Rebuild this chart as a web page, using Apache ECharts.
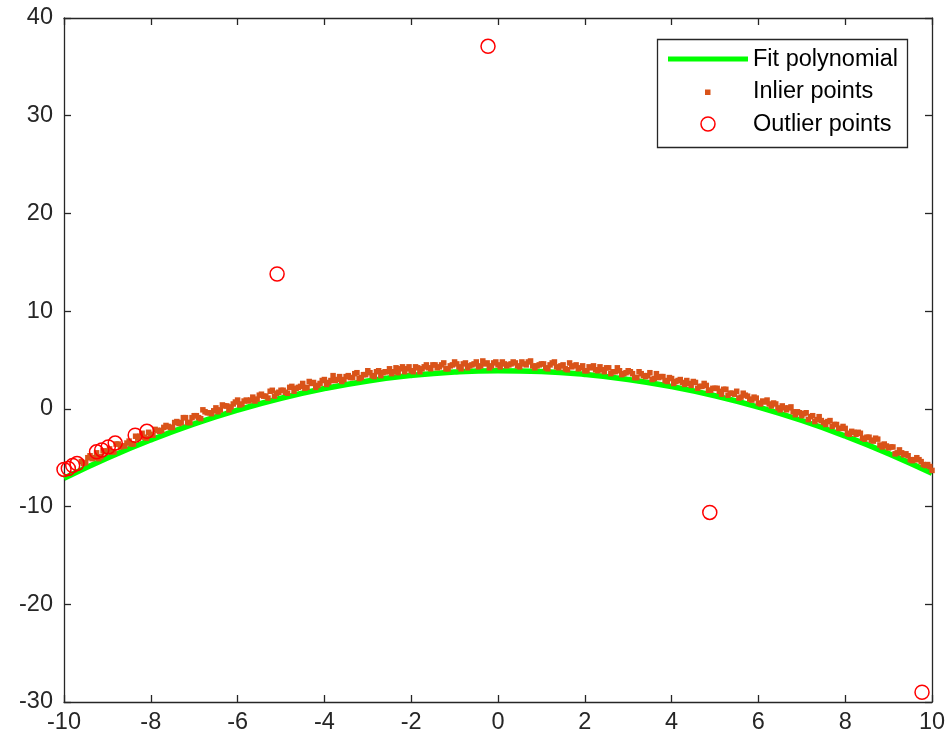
<!DOCTYPE html>
<html>
<head>
<meta charset="utf-8">
<script src="https://cdn.jsdelivr.net/npm/echarts@6/dist/echarts.min.js"></script>
<style>
html,body{margin:0;padding:0;background:#fff;}
#chart{width:950px;height:746px;}
</style>
</head>
<body>
<div id="chart"></div>
<script>
// Fit polynomial read at integer x
var fitX = [-10,-9,-8,-7,-6,-5,-4,-3,-2,-1,0,1,2,3,4,5,6,7,8,9,10];
var fitY = [-7.1,-5.03,-3.18,-1.54,-0.12,1.09,2.08,2.86,3.42,3.77,3.9,3.82,3.52,3.01,2.28,1.34,0.18,-1.19,-2.78,-4.58,-6.6];

// Inlier points (first pass)
var inlierX = [-9.6,-9.5,-9.4,-9.3,-9.2,-9.1,-9.0,-8.9,-8.8,-8.7,-8.6,-8.5,-8.4,-8.3,-8.2,-8.1,-8.0,-7.9,-7.8,-7.7,
-7.6,-7.5,-7.4,-7.3,-7.2,-7.1,-7.0,-6.9,-6.8,-6.7,-6.6,-6.5,-6.4,-6.3,-6.2,-6.1,-6.0,-5.9,-5.8,-5.7,
-5.6,-5.5,-5.4,-5.3,-5.2,-5.1,-5.0,-4.9,-4.8,-4.7,-4.6,-4.5,-4.4,-4.3,-4.2,-4.1,-4.0,-3.9,-3.8,-3.7,
-3.6,-3.5,-3.4,-3.3,-3.2,-3.1,-3.0,-2.9,-2.8,-2.7,-2.6,-2.5,-2.4,-2.3,-2.2,-2.1,-2.0,-1.9,-1.8,-1.7,
-1.6,-1.5,-1.4,-1.3,-1.2,-1.1,-1.0,-0.9,-0.8,-0.7,-0.6,-0.5,-0.4,-0.3,-0.2,-0.1,0.0,0.1,0.2,0.3,
0.4,0.5,0.6,0.7,0.8,0.9,1.0,1.1,1.2,1.3,1.4,1.5,1.6,1.7,1.8,1.9,2.0,2.1,2.2,2.3,
2.4,2.5,2.6,2.7,2.8,2.9,3.0,3.1,3.2,3.3,3.4,3.5,3.6,3.7,3.8,3.9,4.0,4.1,4.2,4.3,
4.4,4.5,4.6,4.7,4.8,4.9,5.0,5.1,5.2,5.3,5.4,5.5,5.6,5.7,5.8,5.9,6.0,6.1,6.2,6.3,
6.4,6.5,6.6,6.7,6.8,6.9,7.0,7.1,7.2,7.3,7.4,7.5,7.6,7.7,7.8,7.9,8.0,8.1,8.2,8.3,
8.4,8.5,8.6,8.7,8.8,8.9,9.0,9.1,9.2,9.3,9.4,9.5,9.6,9.7,9.8,9.9,10.0];
var inlierY = [-5.4,-5.5,-4.8,-5.0,-5.1,-4.3,-4.3,-4.4,-3.6,-3.9,-3.8,-3.3,-3.6,-3.0,-2.5,-3.0,-2.6,-2.1,-2.3,-1.9,
-1.8,-1.9,-1.3,-1.4,-0.9,-1.4,-0.7,-0.9,-0.1,-0.4,-0.5,0.1,-0.1,0.3,-0.1,0.5,0.9,0.5,0.9,0.9,
0.8,1.4,1.3,1.1,1.9,1.6,1.9,1.7,2.2,1.8,2.2,2.6,2.2,2.6,2.2,2.6,3.0,2.7,3.4,3.0,
2.8,3.3,3.2,3.6,3.1,3.5,3.9,3.4,3.8,3.4,3.8,4.1,3.8,3.7,4.3,4.1,3.9,4.3,3.8,4.3,
4.2,4.5,4.2,4.5,4.1,4.4,4.8,4.3,4.6,4.2,4.5,4.8,4.4,4.6,4.2,4.7,4.5,4.8,4.4,4.6,
4.7,4.3,4.6,4.8,4.4,4.4,4.6,4.2,4.5,4.8,4.2,4.5,4.0,4.3,4.5,4.2,3.9,4.3,4.4,3.9,
4.0,4.2,3.6,3.8,3.9,3.6,3.9,3.6,3.2,3.6,3.3,3.7,3.1,3.2,3.3,2.8,3.1,2.8,3.0,2.5,
2.6,2.8,2.1,2.3,2.4,1.9,2.1,1.8,2.0,1.4,1.6,1.8,1.2,1.4,1.0,1.2,0.6,0.8,0.9,0.3,
0.5,-0.1,0.1,0.1,-0.3,-0.3,-0.7,-0.4,-0.8,-1.3,-0.8,-1.4,-1.3,-1.8,-1.6,-2.0,-2.0,-2.6,-2.4,-2.4,
-3.0,-2.9,-3.2,-3.0,-3.7,-3.6,-4.0,-3.9,-4.5,-4.5,-4.6,-5.2,-5.2,-5.2,-5.7,-5.7,-6.3];

// Inlier points (in-between positions)
var inlierX2 = [-9.55,-9.45,-9.35,-9.25,-9.15,-9.05,-8.95,-8.85,-8.75,-8.65,-8.55,-8.45,-8.35,-8.25,-8.15,-8.05,-7.95,-7.85,-7.75,-7.65,
-7.55,-7.45,-7.35,-7.25,-7.15,-7.05,-6.95,-6.85,-6.75,-6.65,-6.55,-6.45,-6.35,-6.25,-6.15,-6.05,-5.95,-5.85,-5.75,-5.65,
-5.55,-5.45,-5.35,-5.25,-5.15,-5.05,-4.95,-4.85,-4.75,-4.65,-4.55,-4.45,-4.35,-4.25,-4.15,-4.05,-3.95,-3.85,-3.75,-3.65,
-3.55,-3.45,-3.35,-3.25,-3.15,-3.05,-2.95,-2.85,-2.75,-2.65,-2.55,-2.45,-2.35,-2.25,-2.15,-2.05,-1.95,-1.85,-1.75,-1.65,
-1.55,-1.45,-1.35,-1.25,-1.15,-1.05,-0.95,-0.85,-0.75,-0.65,-0.55,-0.45,-0.35,-0.25,-0.15,-0.05,0.05,0.15,0.25,0.35,
0.45,0.55,0.65,0.75,0.85,0.95,1.05,1.15,1.25,1.35,1.45,1.55,1.65,1.75,1.85,1.95,2.05,2.15,2.25,2.35,
2.45,2.55,2.65,2.75,2.85,2.95,3.05,3.15,3.25,3.35,3.45,3.55,3.65,3.75,3.85,3.95,4.05,4.15,4.25,4.35,
4.45,4.55,4.65,4.75,4.85,4.95,5.05,5.15,5.25,5.35,5.45,5.55,5.65,5.75,5.85,5.95,6.05,6.15,6.25,6.35,
6.45,6.55,6.65,6.75,6.85,6.95,7.05,7.15,7.25,7.35,7.45,7.55,7.65,7.75,7.85,7.95,8.05,8.15,8.25,8.35,
8.45,8.55,8.65,8.75,8.85,8.95,9.05,9.15,9.25,9.35,9.45,9.55,9.65,9.75,9.85,9.95];
var inlierY2 = [-5.6,-5.0,-5.1,-4.5,-4.9,-4.4,-4.1,-4.4,-3.6,-3.8,-3.5,-3.6,-2.8,-2.8,-2.9,-2.4,-2.7,-2.2,-2.2,-1.7,
-1.9,-1.4,-1.5,-0.9,-1.4,-0.9,-0.7,-1.0,-0.3,-0.4,-0.2,-0.3,0.4,0.3,0.2,0.7,0.4,0.8,0.8,1.2,
1.0,1.5,1.3,1.8,1.3,1.7,1.9,1.6,2.3,2.1,2.3,2.1,2.8,2.7,2.4,2.9,2.5,2.9,2.9,3.3,
3.0,3.4,3.2,3.7,3.2,3.5,3.7,3.3,3.9,3.7,3.8,3.6,4.2,4.1,3.8,4.3,3.8,4.2,4.1,4.5,
4.1,4.5,4.3,4.7,4.1,4.5,4.6,4.1,4.7,4.4,4.6,4.3,4.9,4.7,4.4,4.8,4.3,4.6,4.5,4.8,
4.4,4.8,4.5,4.9,4.2,4.5,4.6,4.1,4.7,4.3,4.4,4.1,4.7,4.4,4.1,4.4,3.9,4.2,4.0,4.3,
3.8,4.2,3.8,4.2,3.5,3.7,3.8,3.2,3.8,3.4,3.4,3.0,3.6,3.3,2.9,3.2,2.6,2.9,2.7,2.9,
2.4,2.7,2.3,2.6,1.9,2.1,2.1,1.5,2.0,1.6,1.5,1.1,1.6,1.3,0.9,1.1,0.5,0.7,0.5,0.6,
0.1,0.3,-0.1,0.2,-0.6,-0.4,-0.5,-1.1,-0.7,-1.1,-1.2,-1.6,-1.2,-1.6,-2.0,-1.8,-2.5,-2.3,-2.6,-2.5,
-3.1,-2.9,-3.3,-3.1,-3.9,-3.8,-3.9,-4.6,-4.2,-4.7,-4.8,-5.3,-5.0,-5.4,-5.8,-5.9];

// Outlier points
var outlierX = [-10.0,-9.9,-9.8,-9.7,-9.25,-9.13,-8.98,-8.82,-8.36,-8.09,-5.09,-0.23,4.88,9.77];
var outlierY = [-6.2,-6.1,-5.8,-5.6,-4.4,-4.2,-3.9,-3.5,-2.7,-2.3,13.8,37.1,-10.6,-29.0];

var xTicks = {min:-10, max:10, interval:2};
var yTicks = {min:-30, max:40, interval:10};
var legendNames = ['Fit polynomial', 'Inlier points', 'Outlier points'];

function pairs(xs, ys){ var o=[]; for(var i=0;i<xs.length && i<ys.length;i++){o.push([xs[i],ys[i]]);} return o; }

var axisColor = '#262626';
var fontFam = '"Liberation Sans", Arial, Helvetica, sans-serif';
var fs = 23.5;
var fitColor = '#00FF00', inColor = '#D95319', outColor = '#FF0000';

var chart = echarts.init(document.getElementById('chart'), null, {renderer:'canvas'});
function baseAxis(extra){
  var a = {
    type:'value',
    splitLine:{show:false},
    axisLine:{onZero:false, lineStyle:{color:axisColor, width:1.3}},
    axisTick:{inside:true, length:7, lineStyle:{color:axisColor, width:1.3}},
    axisLabel:{color:axisColor, fontSize:fs, fontFamily:fontFam}
  };
  for (var k in extra) a[k]=extra[k];
  return a;
}
var txt = {fill:'#000', fontSize:fs, fontFamily:fontFam, verticalAlign:'middle', align:'left'};
function t(s, y){ var o={}; for(var k in txt) o[k]=txt[k]; o.text=s; o.x=753; o.y=y; return o; }
var option = {
  animation:false,
  backgroundColor:'#fff',
  grid:{left:64, right:18, top:18, bottom:44, containLabel:false},
  xAxis:[
    baseAxis({position:'bottom', min:xTicks.min, max:xTicks.max, interval:xTicks.interval,
      axisLabel:{color:axisColor, fontSize:fs, fontFamily:fontFam, margin:9}}),
    baseAxis({position:'top', min:xTicks.min, max:xTicks.max, interval:xTicks.interval, axisLabel:{show:false}})
  ],
  yAxis:[
    baseAxis({position:'left', min:yTicks.min, max:yTicks.max, interval:yTicks.interval,
      axisLabel:{color:axisColor, fontSize:fs, fontFamily:fontFam, margin:11}}),
    baseAxis({position:'right', min:yTicks.min, max:yTicks.max, interval:yTicks.interval, axisLabel:{show:false}})
  ],
  graphic:[{type:'group', z:100, children:[
    {type:'rect', shape:{x:657.5, y:39.5, width:250, height:108}, style:{fill:'#fff', stroke:axisColor, lineWidth:1.3}},
    {type:'line', shape:{x1:668, y1:59, x2:748, y2:59}, style:{stroke:fitColor, lineWidth:5}},
    {type:'rect', shape:{x:705, y:89.5, width:5.5, height:5.5}, style:{fill:inColor}},
    {type:'circle', shape:{cx:708, cy:124, r:7}, style:{fill:'none', stroke:outColor, lineWidth:1.5}},
    {type:'text', style:t(legendNames[0], 60)},
    {type:'text', style:t(legendNames[1], 92)},
    {type:'text', style:t(legendNames[2], 125)}
  ]}],
  series:[
    {name:legendNames[0], type:'line', data:pairs(fitX, fitY), smooth:true, symbol:'none',
     lineStyle:{color:fitColor, width:5.5}, itemStyle:{color:fitColor}, z:2},
    {name:legendNames[1], type:'scatter', data:pairs(inlierX, inlierY).concat(pairs(inlierX2, inlierY2)), symbol:'rect', symbolSize:5.5,
     itemStyle:{color:inColor, opacity:1}, z:3},
    {name:legendNames[2], type:'scatter', data:pairs(outlierX, outlierY), symbol:'circle', symbolSize:14,
     itemStyle:{color:'rgba(0,0,0,0)', borderColor:outColor, borderWidth:1.5, opacity:1}, z:4}
  ]
};
chart.setOption(option);
</script>
</body>
</html>
